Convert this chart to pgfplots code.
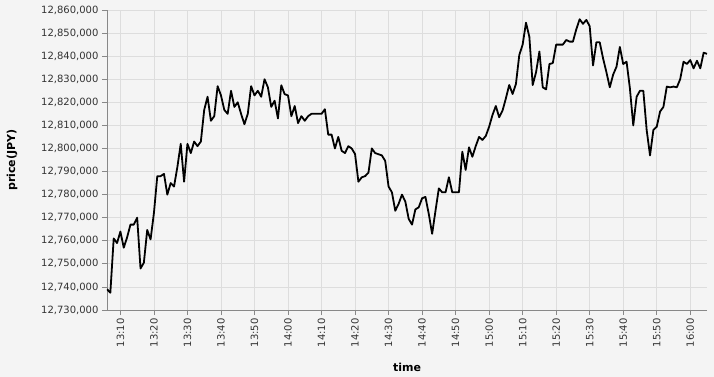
\documentclass[border=0pt]{standalone}
\usepackage{fontspec}
\setmainfont{DejaVu Sans}
\usepackage{pgfplots}
\pgfplotsset{compat=1.18}
\usepackage{pgfplotstable}
\definecolor{bgc}{HTML}{F4F4F4}
\definecolor{gridc}{HTML}{DDDDDD}
\definecolor{axc}{HTML}{888888}
\definecolor{labc}{HTML}{333333}
% price in thousands of JPY
\pgfplotstableread{
t v
6 12739.0
7 12737.5
8 12761.0
9 12759.0
10 12764.0
11 12757.0
12 12761.5
13 12767.0
14 12767.0
15 12770.0
16 12748.0
17 12750.5
18 12764.7
19 12760.6
20 12772.0
21 12788.0
22 12788.0
23 12789.0
24 12780.0
25 12785.0
26 12783.5
27 12792.0
28 12802.0
29 12785.6
30 12802.0
31 12798.0
32 12803.0
33 12801.0
34 12803.0
35 12816.7
36 12822.4
37 12812.0
38 12814.0
39 12827.0
40 12823.0
41 12816.7
42 12815.0
43 12825.0
44 12818.0
45 12820.0
46 12815.0
47 12810.5
48 12815.0
49 12827.0
50 12823.0
51 12825.0
52 12822.4
53 12830.0
54 12826.5
55 12818.0
56 12820.7
57 12813.0
58 12827.4
59 12823.5
60 12823.0
61 12814.0
62 12818.4
63 12811.0
64 12814.0
65 12812.0
66 12814.0
67 12815.0
68 12815.0
69 12815.0
70 12815.0
71 12817.0
72 12806.0
73 12806.0
74 12800.0
75 12805.0
76 12799.0
77 12798.0
78 12801.0
79 12800.0
80 12797.6
81 12785.6
82 12787.5
83 12788.0
84 12789.5
85 12800.0
86 12798.0
87 12797.5
88 12797.0
89 12794.6
90 12783.5
91 12781.0
92 12773.0
93 12776.0
94 12780.0
95 12777.0
96 12769.5
97 12767.0
98 12773.6
99 12774.5
100 12778.4
101 12779.0
102 12771.6
103 12763.0
104 12773.0
105 12782.7
106 12781.0
107 12781.0
108 12787.5
109 12781.0
110 12781.0
111 12781.0
112 12798.6
113 12790.7
114 12800.5
115 12796.4
116 12801.0
117 12805.0
118 12803.7
119 12805.4
120 12809.4
121 12814.5
122 12818.4
123 12813.5
124 12816.4
125 12821.7
126 12827.5
127 12823.6
128 12828.0
129 12840.5
130 12845.0
131 12854.5
132 12848.4
133 12827.5
134 12833.0
135 12842.0
136 12826.5
137 12825.6
138 12836.6
139 12837.0
140 12845.0
141 12845.0
142 12845.0
143 12847.0
144 12846.3
145 12846.3
146 12851.6
147 12856.0
148 12854.0
149 12855.7
150 12853.0
151 12836.0
152 12846.0
153 12846.0
154 12839.0
155 12833.0
156 12826.5
157 12832.0
158 12835.4
159 12844.0
160 12836.6
161 12837.6
162 12826.0
163 12810.0
164 12822.4
165 12825.0
166 12825.0
167 12808.0
168 12797.0
169 12808.0
170 12809.4
171 12816.0
172 12818.0
173 12826.8
174 12826.5
175 12826.8
176 12826.5
177 12830.0
178 12837.6
179 12836.6
180 12838.3
181 12834.7
182 12838.0
183 12834.7
184 12841.5
185 12841.0
}\pricedata
\begin{document}
\begin{tikzpicture}
\path[use as bounding box, fill=bgc] (-107bp,-67bp) rectangle (607bp,310bp);
\begin{axis}[
  at={(0,0)}, anchor=south west,
  scale only axis, width=600bp, height=300bp,
  xmin=6, xmax=185, ymin=12730, ymax=12860,
  axis x line*=bottom, axis y line*=left,
  axis line style={-, draw=axc, line width=0.8bp},
  tick style={draw=axc, line width=0.8bp},
  tick align=outside, major tick length=5bp,
  grid=major, major grid style={draw=gridc, line width=0.8bp},
  xtick={10,20,...,180},
  xticklabels={13:10,13:20,13:30,13:40,13:50,14:00,14:10,14:20,14:30,14:40,14:50,15:00,15:10,15:20,15:30,15:40,15:50,16:00},
  ytick={12730,12740,...,12860},
  scaled y ticks=false,
  yticklabel={\pgfmathprintnumber[fixed, precision=0, 1000 sep={,}, assume math mode=true]{\tick},000},
  ticklabel style={font=\fontsize{10bp}{12bp}\selectfont, text=labc},
  xticklabel style={rotate=90, anchor=east},
  xlabel={time}, ylabel={price(JPY)},
  label style={font=\fontsize{11bp}{13bp}\selectfont\bfseries, text=black},
  xlabel style={at={(axis description cs:0.5,0)}, anchor=center, yshift=-57bp},
  ylabel style={at={(axis description cs:-0.158,0.5)}, anchor=center},
]
\addplot[black, line width=1.8bp, line join=round, mark=none] table[x=t, y=v] {\pricedata};
\end{axis}
\end{tikzpicture}
\end{document}
